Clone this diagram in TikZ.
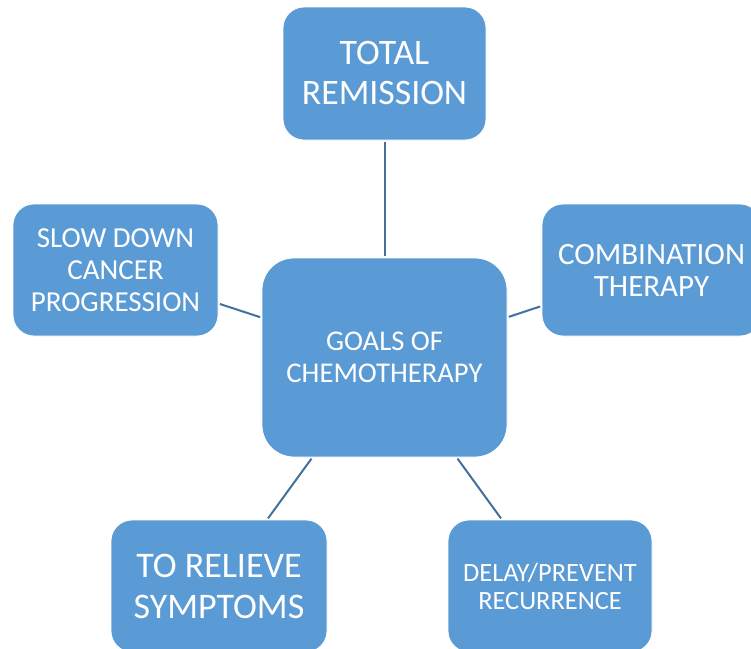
\documentclass[tikz,border=0pt]{standalone}
\usepackage{fontspec}
\setmainfont{Carlito}
\definecolor{boxblue}{RGB}{91,155,213}
\definecolor{linkblue}{RGB}{65,113,156}
\begin{document}
\begin{tikzpicture}[x=1pt,y=-1pt,
  goalbox/.style={rectangle, rounded corners=21pt, fill=boxblue, draw=white, line width=0.8pt,
    text=white, align=center, inner sep=0pt},
  link/.style={draw=linkblue, line width=2pt, shorten <=1.5pt, shorten >=1.5pt}]
\useasboundingbox (0,0) rectangle (751,648);
\clip (0,0) rectangle (751,648);
\node[goalbox, minimum width=203pt, minimum height=133pt,
  font=\fontsize{35.8}{40}\selectfont] (top) at (384.5,73.5) {TOTAL\\REMISSION};
\node[goalbox, minimum width=205pt, minimum height=132pt,
  font=\fontsize{29}{32}\selectfont] (left) at (115.5,270) {SLOW DOWN\\CANCER\\PROGRESSION};
\node[goalbox, minimum width=219pt, minimum height=132pt,
  font=\fontsize{31}{32}\selectfont] (right) at (651.5,270) {COMBINATION\\THERAPY};
\node[goalbox, rounded corners=32pt, minimum width=245pt, minimum height=199pt,
  font=\fontsize{28.6}{32}\selectfont] (goals) at (384.5,357.5) {GOALS OF\\CHEMOTHERAPY};
\node[goalbox, minimum width=216pt, minimum height=132pt,
  font=\fontsize{36}{41}\selectfont] (bl) at (219,586) {TO RELIEVE\\SYMPTOMS};
\node[goalbox, minimum width=204pt, minimum height=132pt,
  font=\fontsize{26.4}{28}\selectfont] (br) at (550,586) {DELAY/PREVENT\\RECURRENCE};
\draw[link] (top) -- (goals);
\draw[link] (left) -- (goals);
\draw[link] (right) -- (goals);
\draw[link] (bl) -- (goals);
\draw[link] (br) -- (goals);
\end{tikzpicture}
\end{document}
